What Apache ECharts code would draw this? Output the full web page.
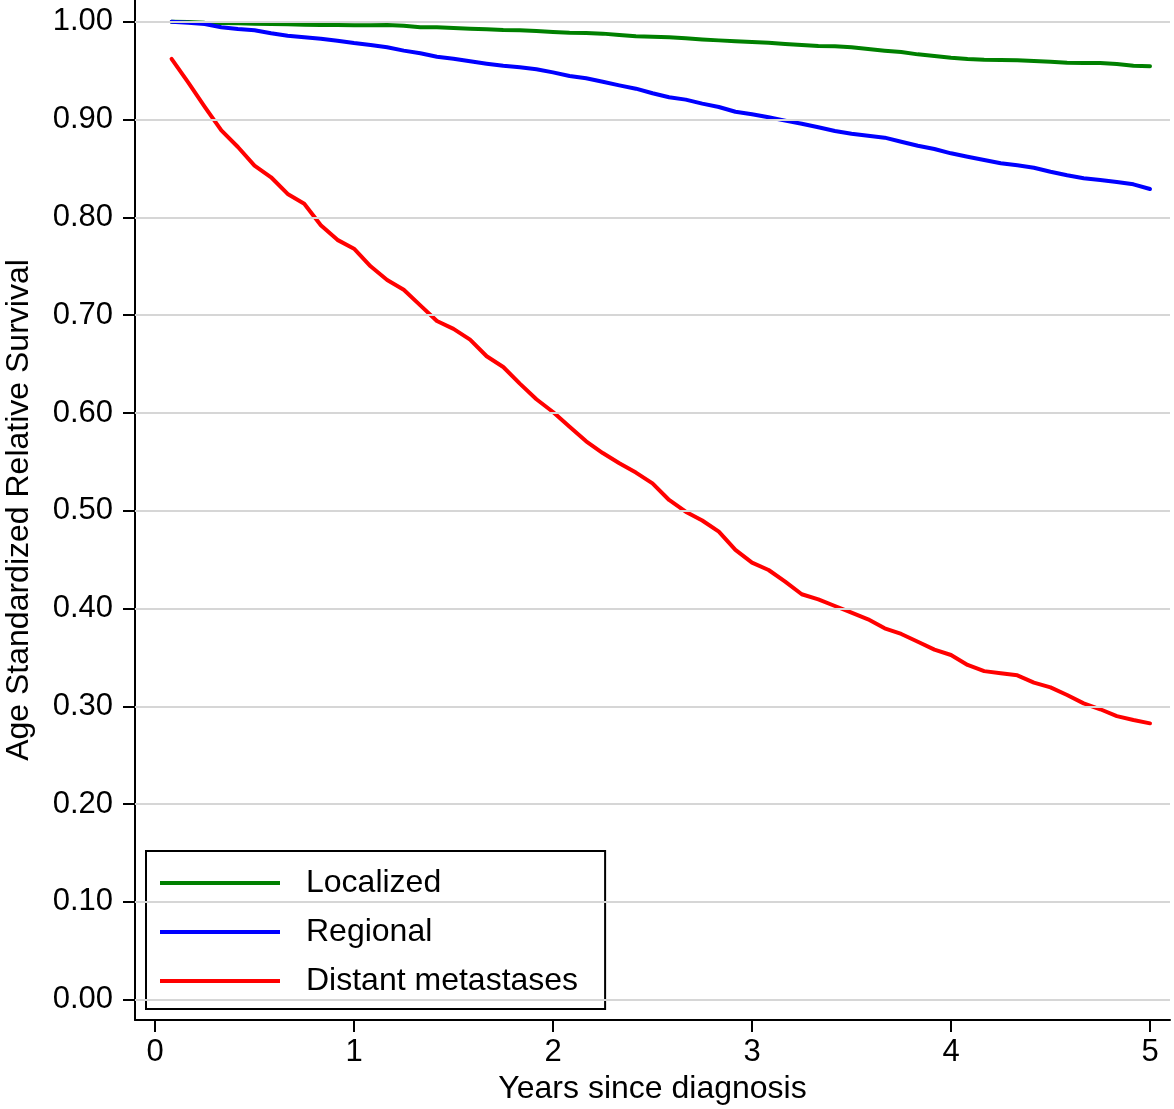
<!DOCTYPE html>
<html>
<head>
<meta charset="utf-8">
<script src="https://cdn.jsdelivr.net/npm/echarts@6/dist/echarts.min.js"></script>
<style>html,body{margin:0;padding:0;background:#fff}#c{width:1174px;height:1109px}</style>
</head>
<body>
<div id="c"></div>
<script>
const months = [1,2,3,4,5,6,7,8,9,10,11,12,13,14,15,16,17,18,19,20,21,22,23,24,25,26,27,28,29,30,
  31,32,33,34,35,36,37,38,39,40,41,42,43,44,45,46,47,48,49,50,51,52,53,54,55,56,57,58,59,60];
const localized = [1.000,0.9998,0.9991,0.9988,0.9985,0.9981,0.9977,0.9974,0.9970,0.9967,
  0.9967,0.9964,0.9964,0.9967,0.9960,0.9944,0.9944,0.9937,0.9930,0.9923,
  0.9916,0.9913,0.9906,0.9896,0.9889,0.9886,0.9879,0.9865,0.9852,0.9848,
  0.9841,0.9831,0.9820,0.9810,0.9800,0.9793,0.9786,0.9773,0.9763,0.9752,
  0.9749,0.9739,0.9722,0.9705,0.9691,0.9667,0.9650,0.9633,0.9620,0.9613,
  0.9610,0.9606,0.9599,0.9592,0.9582,0.9579,0.9579,0.9569,0.9551,0.9545];
const regional = [1.000,0.9990,0.9977,0.9944,0.9926,0.9913,0.9882,0.9858,0.9841,0.9827,
  0.9807,0.9783,0.9763,0.9740,0.9705,0.9678,0.9643,0.9623,0.9596,0.9572,
  0.9551,0.9535,0.9514,0.9483,0.9446,0.9422,0.9387,0.9350,0.9316,0.9269,
  0.9228,0.9204,0.9163,0.9129,0.9080,0.9054,0.9023,0.8989,0.8958,0.8921,
  0.8883,0.8856,0.8835,0.8815,0.8774,0.8733,0.8699,0.8655,0.8620,0.8587,
  0.8553,0.8532,0.8508,0.8467,0.8430,0.8400,0.8382,0.8362,0.8338,0.8290];
const distant = [0.962,0.938,0.913,0.889,0.872,0.853,0.841,0.824,0.814,0.792,
  0.777,0.768,0.750,0.736,0.726,0.710,0.694,0.686,0.675,0.658,
  0.647,0.630,0.614,0.601,0.586,0.571,0.559,0.5485,0.539,0.528,
  0.511,0.499,0.490,0.4786,0.460,0.447,0.4394,0.4275,0.4146,0.4094,
  0.4026,0.3958,0.389,0.3798,0.374,0.366,0.358,0.3525,0.3423,0.336,
  0.3338,0.3317,0.3242,0.3194,0.3116,0.303,0.297,0.290,0.286,0.2826];
const seriesNames = ['Localized', 'Regional', 'Distant metastases'];
const yTicks = [0, 0.1, 0.2, 0.3, 0.4, 0.5, 0.6, 0.7, 0.8, 0.9, 1.0];
const xTicks = [0, 1, 2, 3, 4, 5];
const xTitle = 'Years since diagnosis';
const yTitle = 'Age Standardized Relative Survival';

const FONT = 'Liberation Sans';
const toPairs = vals => months.map((m, i) => [m / 12, vals[i]]);
const chart = echarts.init(document.getElementById('c'), null, {renderer: 'canvas'});
const mkLine = (name, vals, color) => ({
  name, type: 'line', data: toPairs(vals), symbol: 'none', showSymbol: false,
  color, z: 3, lineStyle: {color, width: 4, join: 'round', cap: 'round'}, emphasis: {disabled: true}
});
chart.setOption({
  animation: false,
  backgroundColor: '#fff',
  grid: {left: 135, right: 4, top: 0, bottom: 89, containLabel: false, outerBoundsMode: 'none'},
  xAxis: {
    type: 'value', min: -0.1005, max: 5.1005,
    name: xTitle, nameLocation: 'middle', nameGap: 47,
    nameTextStyle: {fontFamily: FONT, fontSize: 32, color: '#000'},
    axisLine: {show: true, onZero: false, lineStyle: {color: '#000', width: 2}},
    axisTick: {show: true, length: 12, lineStyle: {color: '#000', width: 2}, customValues: xTicks},
    axisLabel: {fontFamily: FONT, fontSize: 31, color: '#000', margin: 17, customValues: xTicks,
      formatter: v => String(v)},
    splitLine: {show: false}
  },
  yAxis: {
    type: 'value', min: -0.02076, max: 1.02229,
    name: yTitle, nameLocation: 'middle', nameGap: 100, nameRotate: 90,
    nameTextStyle: {fontFamily: FONT, fontSize: 32, color: '#000'},
    axisLine: {show: true, onZero: false, lineStyle: {color: '#000', width: 2}},
    axisTick: {show: true, length: 12, lineStyle: {color: '#000', width: 2}, customValues: yTicks},
    axisLabel: {fontFamily: FONT, fontSize: 31, color: '#000', margin: 22, customValues: yTicks,
      formatter: v => Number(v).toFixed(2)},
    splitLine: {show: false}
  },
  legend: {
    show: true, orient: 'vertical', left: 146, top: 851,
    data: seriesNames.map(n => ({name: n, icon: 'rect'})),
    itemWidth: 120, itemHeight: 4, itemGap: 17,
    padding: [16, 27, 12, 14],
    backgroundColor: '#fff', borderColor: '#000', borderWidth: 2, borderRadius: 0,
    selectedMode: false,
    textStyle: {fontFamily: FONT, fontSize: 32, color: '#000', lineHeight: 28, padding: [0, 0, 0, 21]}
  },
  series: [
    {
      name: 'grid', type: 'line', data: [], z: 1, silent: true,
      markLine: {
        silent: true, symbol: 'none', animation: false,
        label: {show: false},
        lineStyle: {color: '#d6d6d6', width: 2, type: 'solid'},
        emphasis: {disabled: true},
        data: yTicks.map(v => ({yAxis: v}))
      }
    },
    mkLine(seriesNames[0], localized, '#008000'),
    mkLine(seriesNames[1], regional, '#0000ff'),
    mkLine(seriesNames[2], distant, '#ff0000')
  ]
});
</script>
</body>
</html>
